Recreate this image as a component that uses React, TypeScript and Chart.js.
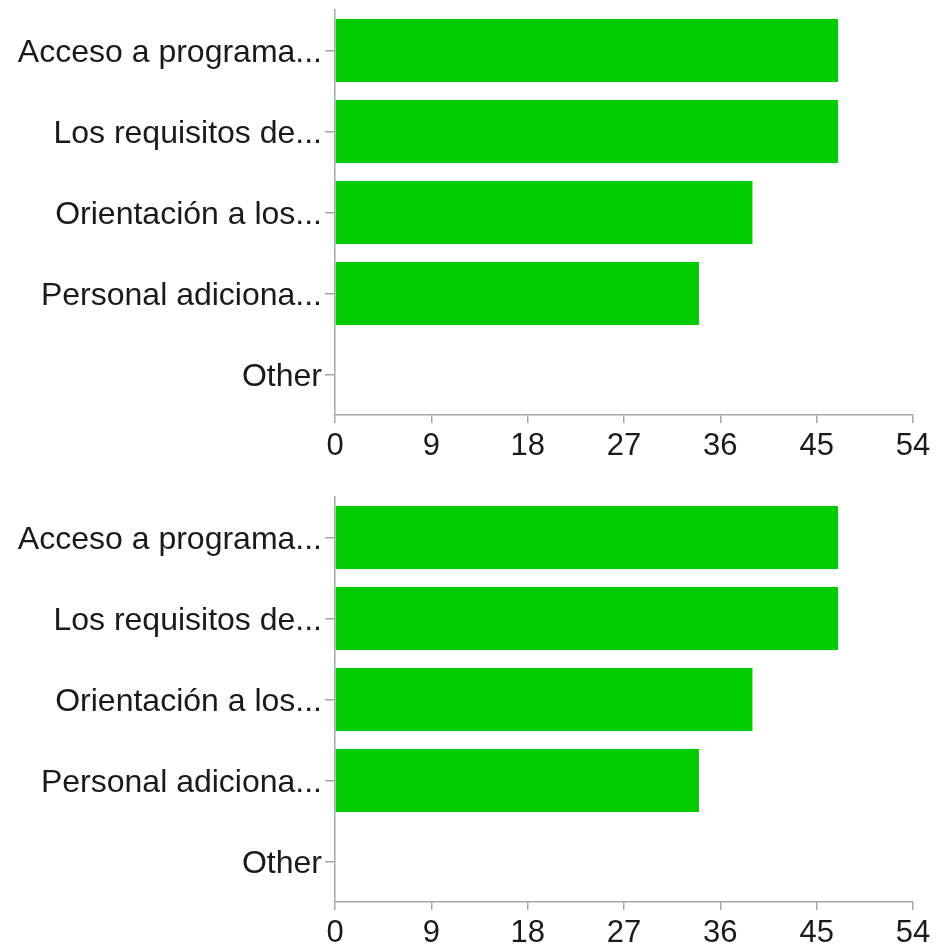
import React, { useEffect, useRef } from "react";
import { Chart, registerables } from "chart.js";

Chart.register(...registerables);

const categories = [
  "Acceso a programa...",
  "Los requisitos de...",
  "Orientación a los...",
  "Personal adiciona...",
  "Other",
];
const valuesTop = [47, 47, 39, 34, 0];
const valuesBottom = [47, 47, 39, 34, 0];
const xTicks = [0, 9, 18, 27, 36, 45, 54];

const BAR_COLOR = "#00cc00";
const AXIS_COLOR = "#a6a6a6";
const TEXT_COLOR = "#1a1a1a";
const FONT = "'Liberation Sans', Arial, Helvetica, sans-serif";

const W = 936;
const H = 462;

function BarChart({ values }: { values: number[] }) {
  const ref = useRef<HTMLCanvasElement | null>(null);
  useEffect(() => {
    if (!ref.current) return;
    const chart = new Chart(ref.current, {
      type: "bar",
      data: {
        labels: categories,
        datasets: [
          {
            data: values,
            backgroundColor: BAR_COLOR,
            borderWidth: 0,
            barPercentage: 0.78,
            categoryPercentage: 1,
          },
        ],
      },
      options: {
        indexAxis: "y",
        animation: false,
        responsive: false,
        devicePixelRatio: 1,
        layout: { autoPadding: false, padding: { top: 10, right: 23, left: 0, bottom: 0 } },
        plugins: { legend: { display: false }, tooltip: { enabled: false } },
        scales: {
          x: {
            type: "linear",
            min: xTicks[0],
            max: xTicks[xTicks.length - 1],
            afterBuildTicks: (scale: any) => {
              scale.ticks = xTicks.map((v) => ({ value: v }));
            },
            afterFit: (scale: any) => {
              scale.height = 47;
              scale.paddingLeft = 0;
              scale.paddingRight = 0;
            },
            grid: {
              drawOnChartArea: false,
              drawTicks: true,
              tickLength: 8,
              color: AXIS_COLOR,
              lineWidth: 1.5,
            },
            border: { display: true, color: AXIS_COLOR, width: 1.5 },
            ticks: {
              color: TEXT_COLOR,
              font: { family: FONT, size: 31 },
              padding: 5,
              maxRotation: 0,
              autoSkip: false,
            },
          },
          y: {
            afterFit: (scale: any) => {
              scale.width = 335;
              scale.paddingTop = 0;
              scale.paddingBottom = 0;
            },
            grid: {
              offset: false,
              drawOnChartArea: false,
              drawTicks: true,
              tickLength: 10,
              color: AXIS_COLOR,
              lineWidth: 1.5,
            },
            border: { display: true, color: AXIS_COLOR, width: 1.5 },
            ticks: {
              color: TEXT_COLOR,
              font: { family: FONT, size: 32 },
              padding: 3,
              labelOffset: 3,
              autoSkip: false,
            },
          },
        },
      },
    });
    return () => chart.destroy();
  }, [values]);
  return <canvas ref={ref} width={W} height={H} style={{ display: "block", width: W, height: H }} />;
}

export default function App() {
  return (
    <div style={{ position: "absolute", left: 0, top: 0, width: W, height: 949, background: "#fff" }}>
      <div style={{ position: "absolute", left: 0, top: 0 }}>
        <BarChart values={valuesTop} />
      </div>
      <div style={{ position: "absolute", left: 0, top: 487 }}>
        <BarChart values={valuesBottom} />
      </div>
    </div>
  );
}
